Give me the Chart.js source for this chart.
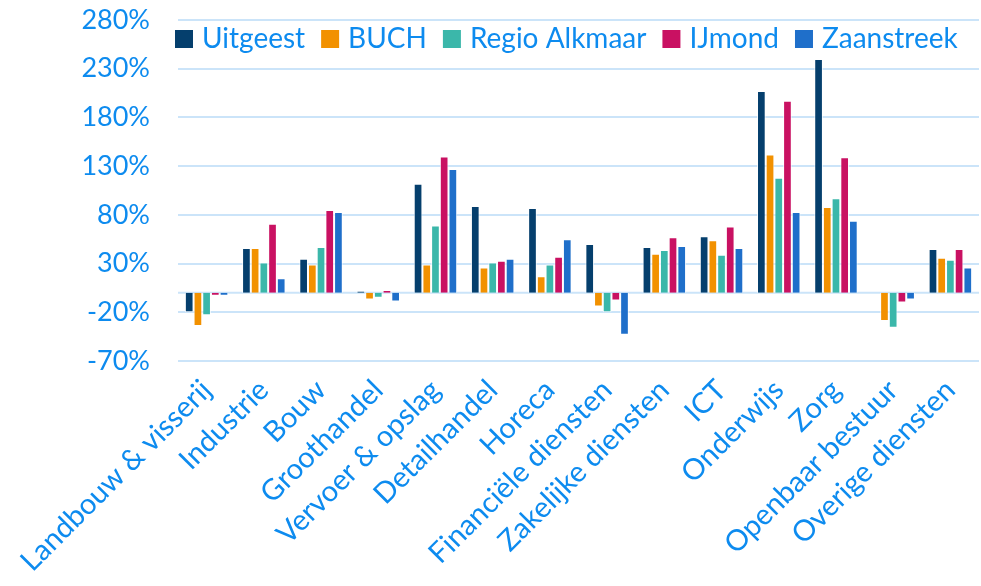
<!DOCTYPE html>
<html>
<head>
<meta charset="utf-8">
<script src="https://cdn.jsdelivr.net/npm/chart.js@4"></script>
<style>
  html, body { margin: 0; padding: 0; background: #ffffff; }
  #wrap { width: 981px; height: 586px; }
</style>
</head>
<body>
<div id="wrap"><canvas id="chart" width="981" height="586"></canvas></div>
<script>
// Categories and series (percent change)
const sectors = ["Landbouw & visserij", "Industrie", "Bouw", "Groothandel", "Vervoer & opslag", "Detailhandel", "Horeca", "Financiële diensten", "Zakelijke diensten", "ICT", "Onderwijs", "Zorg", "Openbaar bestuur", "Overige diensten"];
const uitgeest = [-20, 46, 35, 2, 112, 89, 87, 50, 47, 58, 207, 240, 0, 45];
const buch = [-34, 46, 29, -7, 29, 26, 17, -14, 40, 54, 142, 88, -29, 36];
const regioAlkmaar = [-23, 31, 47, -5, 69, 31, 29, -20, 44, 39, 118, 97, -36, 34];
const ijmond = [-3, 71, 85, 3, 140, 33, 37, -8, 57, 68, 197, 139, -10, 45];
const zaanstreek = [-3, 15, 83, -9, 127, 35, 55, -43, 48, 46, 83, 74, -7, 26];
const yTicks = [-70, -20, 30, 80, 130, 180, 230, 280];

const textColor = "#0d8bef";
const gridColor = "#cbe4f9";
const fontFamily = "Lato, 'Open Sans', sans-serif";

function series(label, data, color) {
    return {
        label: label,
        data: data,
        backgroundColor: color,
        borderColor: "rgba(255,255,255,0.75)",
        borderWidth: 1,
        categoryPercentage: 0.76,
        barPercentage: 1.0
    };
}

// Horizontal axis line at 0%
const zeroLine = {
    id: "zeroLine",
    beforeDatasetsDraw(chart) {
        const y = chart.scales.y.getPixelForValue(0);
        const ctx = chart.ctx;
        ctx.save();
        ctx.strokeStyle = gridColor;
        ctx.lineWidth = 2;
        ctx.beginPath();
        ctx.moveTo(chart.chartArea.left, y);
        ctx.lineTo(chart.chartArea.right, y);
        ctx.stroke();
        ctx.restore();
    }
};

// One-row legend inside the plot, under the top gridline
const rowLegend = {
    id: "rowLegend",
    afterDatasetsDraw(chart) {
        const ctx = chart.ctx;
        const box = 18;
        let x = chart.chartArea.left - 3;
        const yMid = chart.chartArea.top + 19;
        ctx.save();
        ctx.font = "28px " + fontFamily;
        ctx.textBaseline = "middle";
        chart.data.datasets.forEach(ds => {
            ctx.fillStyle = ds.backgroundColor;
            ctx.fillRect(x, yMid - box / 2, box, box);
            x += box + 9;
            ctx.fillStyle = textColor;
            ctx.fillText(ds.label, x, yMid);
            x += ctx.measureText(ds.label).width + 16;
        });
        ctx.restore();
    }
};

new Chart(document.getElementById("chart").getContext("2d"), {
    type: "bar",
    data: {
        labels: sectors,
        datasets: [
            series("Uitgeest", uitgeest, "#053f6d"),
            series("BUCH", buch, "#f29100"),
            series("Regio Alkmaar", regioAlkmaar, "#3bb7aa"),
            series("IJmond", ijmond, "#c91162"),
            series("Zaanstreek", zaanstreek, "#1f6fca")
        ]
    },
    options: {
        responsive: false,
        animation: false,
        layout: { padding: { top: 20, right: 2, left: 0, bottom: 0 } },
        plugins: {
            legend: { display: false },
            tooltip: { enabled: false }
        },
        scales: {
            x: {
                grid: { display: false },
                border: { display: false },
                ticks: {
                    color: textColor,
                    font: { family: fontFamily, size: 29 },
                    minRotation: 45,
                    maxRotation: 45,
                    autoSkip: false,
                    padding: 4
                },
                afterFit(scale) { scale.height = 225; }
            },
            y: {
                min: -70,
                max: 280,
                grid: { color: gridColor, lineWidth: 2, drawTicks: false },
                border: { display: false },
                ticks: {
                    color: textColor,
                    font: { family: fontFamily, size: 27 },
                    padding: 28,
                    callback: v => v + "%"
                },
                afterBuildTicks(scale) { scale.ticks = yTicks.map(v => ({ value: v })); },
                afterFit(scale) {
                    scale.width = 178;
                    scale.paddingTop = 0;
                    scale.paddingBottom = 0;
                }
            }
        }
    },
    plugins: [zeroLine, rowLegend]
});
</script>
</body>
</html>
